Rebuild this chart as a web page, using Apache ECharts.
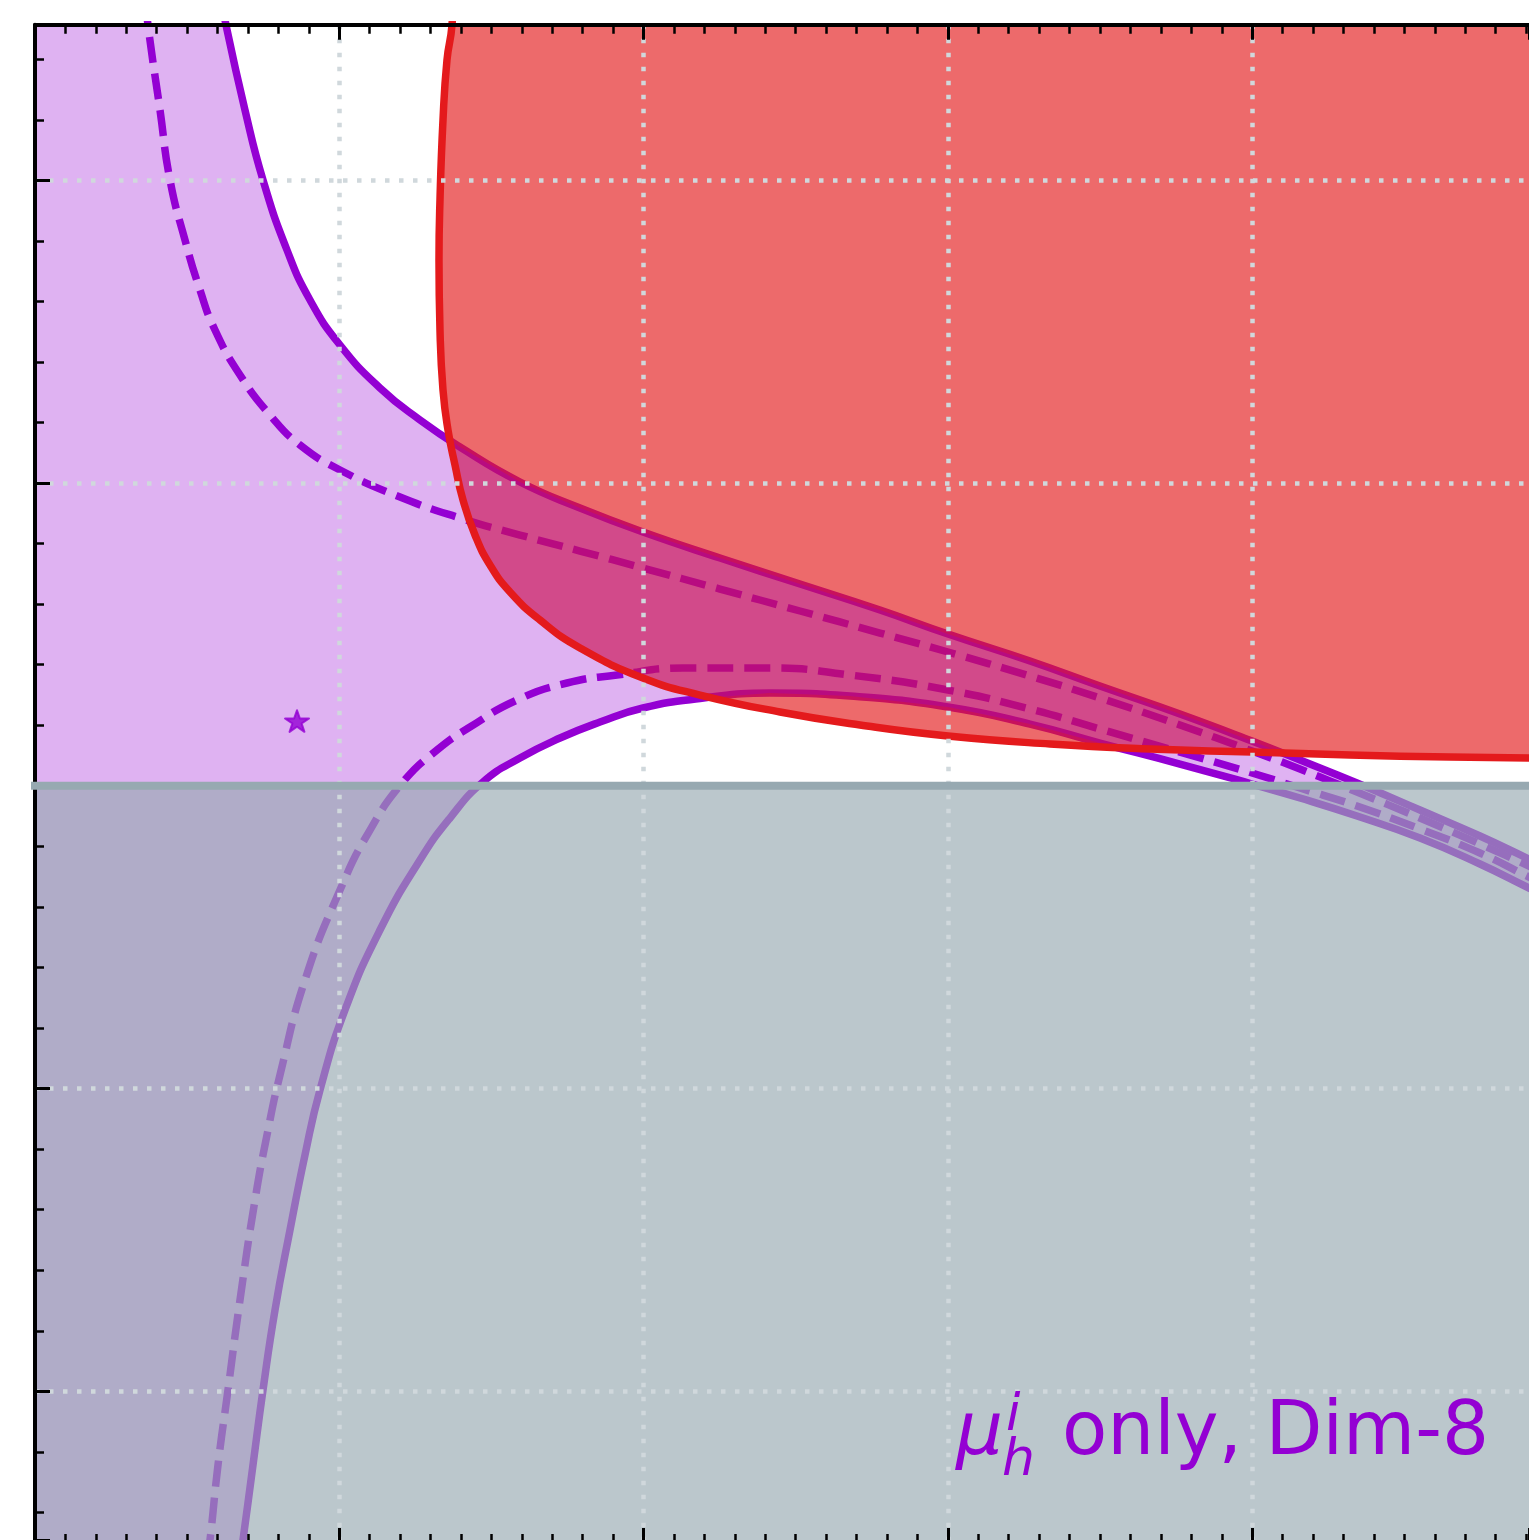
<!DOCTYPE html>
<html><head><meta charset="utf-8">
<script src="https://cdn.jsdelivr.net/npm/echarts@6/dist/echarts.min.js"></script>
<style>html,body{margin:0;padding:0;background:#fff;}#c{width:1529px;height:1540px;}</style>
</head><body><div id="c"></div>
<script>
// ---- data (axis units) ----
const usX = [0.6145,0.6277,0.6901,0.7493,0.8281,0.9037,1.0023,1.1337,1.2652,1.3966,1.5938,1.7910,1.9980,2.2511,2.5140,2.7769,3.0003,3.2698,3.4998,3.7627,3.9993,4.1571,4.3444,4.5515,4.7486,4.9096,5.0444];
const usY = [2.5955,2.5130,2.2322,2.0010,1.7698,1.6046,1.4560,1.3140,1.2083,1.1191,1.0035,0.9176,0.8383,0.7524,0.6666,0.5807,0.5014,0.4122,0.3296,0.2372,0.1480,0.0852,0.0092,-0.0799,-0.1658,-0.2418,-0.3045];
const udX = [0.3648,0.3713,0.4108,0.4436,0.4929,0.5422,0.5915,0.6737,0.7723,0.8709,1.0023,1.1995,1.3966,1.5938,1.7910,1.9980,2.2511,2.5140,2.7769,3.0003,3.2698,3.4998,3.7627,3.9993,4.1571,4.3444,4.5515,4.7486,4.9096,5.0444];
const udY = [2.5955,2.5130,2.2322,2.0010,1.8028,1.6376,1.5055,1.3569,1.2248,1.1257,1.0431,0.9539,0.8846,0.8284,0.7756,0.7194,0.6500,0.5774,0.5047,0.4420,0.3627,0.2900,0.2008,0.1149,0.0555,-0.0205,-0.1064,-0.1922,-0.2649,-0.3277];
const lsX = [0.6737,0.6835,0.7164,0.7493,0.7887,0.8380,0.8873,0.9366,1.0187,1.1337,1.2652,1.3638,1.4722,1.5938,1.7253,1.8567,1.9980,2.1854,2.4154,2.6783,3.0003,3.2698,3.4998,3.7627,3.9993,4.1571,4.3444,4.5515,4.7486,4.9096,5.0444];
const lsY = [-2.5572,-2.4912,-2.2434,-1.9957,-1.7315,-1.4672,-1.2195,-1.0048,-0.7405,-0.4763,-0.2451,-0.1064,0.0126,0.0918,0.1579,0.2107,0.2570,0.2884,0.3065,0.2966,0.2603,0.2041,0.1414,0.0720,0.0059,-0.0403,-0.0998,-0.1724,-0.2583,-0.3376,-0.4036];
const ldX = [0.5652,0.5751,0.6014,0.6342,0.6737,0.7230,0.7657,0.8051,0.8873,1.0023,1.1009,1.2093,1.3211,1.4295,1.5840,1.7483,1.9126,2.1295,2.4154,2.6783,3.0003,3.2698,3.4998,3.7627,3.9993,4.1571,4.3444,4.5515,4.7486,4.9096,5.0444];
const ldY = [-2.5572,-2.4912,-2.2434,-1.9957,-1.6984,-1.3681,-1.1369,-0.9552,-0.6414,-0.3442,-0.1460,0.0126,0.1182,0.1942,0.2834,0.3396,0.3660,0.3891,0.3891,0.3660,0.3164,0.2537,0.1876,0.1116,0.0423,-0.0073,-0.0667,-0.1427,-0.2220,-0.3012,-0.3640];
const redX = [1.3736,1.3704,1.3539,1.3408,1.3309,1.3276,1.3309,1.3408,1.3572,1.3802,1.4065,1.4459,1.4952,1.5610,1.6595,1.7910,1.9980,2.1854,2.4482,2.7111,3.0003,3.3355,3.6642,3.9993,4.3214,4.6500,4.9096,5.0444];
const redY = [2.5955,2.5130,2.3974,2.1992,1.9349,1.7367,1.5055,1.3073,1.1752,1.0596,0.9440,0.8284,0.7293,0.6401,0.5476,0.4552,0.3561,0.2999,0.2438,0.2008,0.1645,0.1381,0.1216,0.1116,0.1017,0.0951,0.0918,0.0902];
const starPoint = [0.861, 0.214];
const baseLineY = 0;
const xRange = [0, 4.9097];
const yRange = [-2.4911, 2.514];
const labelParts = ['μ', 'i', 'h', 'only, Dim-8'];

// ---- styling ----
const PURPLE = '#9400D3', RED = '#E41A1C', GRAYC = '#97A9B1';
const zip = (xs, ys) => xs.map((x, i) => [x, ys[i]]);
const us = zip(usX, usY), ud = zip(udX, udY), ls = zip(lsX, lsY), ld = zip(ldX, ldY), red = zip(redX, redY);
const OUT = 0.2; // margin outside axis range used to close polygons
const xo0 = xRange[0] - OUT, xo1 = xRange[1] + OUT, yo0 = yRange[0] - OUT, yo1 = yRange[1] + OUT;

const redPoly = red.concat([[xo1, redY[redY.length - 1]], [xo1, yo1], [redX[0], yo1]]);
const purplePoly = [[xo0, yo1], [usX[0], yo1]].concat(us, [[xo1, usY[usY.length - 1]], [xo1, lsY[lsY.length - 1]]], ls.slice().reverse(), [[lsX[0], yo0], [xo0, yo0]]);
const grayPoly = [[xo0, baseLineY], [xo1, baseLineY], [xo1, yo0], [xo0, yo0]];

function polySeries(name, points, fill, z) {
  return {
    name, type: 'custom', coordinateSystem: 'cartesian2d', z, silent: true, clip: true,
    data: points, encode: { x: 0, y: 1 },
    renderItem(params, api) {
      if (params.dataIndex !== 0) return null;
      const cs = params.coordSys;
      return {
        type: 'polygon', shape: { points: points.map(p => api.coord(p)) }, style: { fill },
        clipPath: { type: 'rect', shape: { x: cs.x, y: cs.y, width: cs.width, height: cs.height } }
      };
    }
  };
}
function lineSeries(name, data, color, dashed, z) {
  return {
    name, type: 'line', data, z, symbol: 'none', showSymbol: false, silent: true, smooth: 0.5, clip: true,
    lineStyle: { color, width: 7.5, type: dashed ? [26, 11] : 'solid', cap: 'butt', join: 'round' }
  };
}
const gridLine = { show: true, showMinLine: false, showMaxLine: false, lineStyle: { color: '#D0D8DC', width: 4.5, type: [4.5, 9.5] } };
const xAxisDef = (pos, split, offset) => ({
  type: 'value', position: pos, offset, min: xRange[0], max: xRange[1], splitNumber: 5, z: 7,
  axisLine: { show: true, onZero: false, lineStyle: { color: '#000', width: 4 } },
  axisTick: { show: true, inside: true, length: 15, lineStyle: { color: '#000', width: 3 } },
  minorTick: { show: true, splitNumber: 10, length: 9, lineStyle: { color: '#000', width: 2.5 } },
  axisLabel: { show: false }, splitLine: split ? gridLine : { show: false }, minorSplitLine: { show: false }
});

const starPath = 'path://M50,0 L61.8,35.1 L98.8,35.1 L68.8,56.8 L80.2,92 L50,70.2 L19.8,92 L31.2,56.8 L1.2,35.1 L38.2,35.1 Z';

const chart = echarts.init(document.getElementById('c'), null, { renderer: 'canvas' });
chart.setOption({
  animation: false,
  backgroundColor: '#ffffff',
  grid: { left: 35, top: 24.7, right: 0, bottom: 0, containLabel: false },
  xAxis: [xAxisDef('bottom', true, 3), xAxisDef('top', false, 0)],
  yAxis: [{
    type: 'value', position: 'left', min: yRange[0], max: yRange[1], splitNumber: 5, z: 7,
    axisLine: { show: true, onZero: false, lineStyle: { color: '#000', width: 4 } },
    axisTick: { show: true, inside: true, length: 15, lineStyle: { color: '#000', width: 3 } },
    minorTick: { show: true, splitNumber: 5, length: 9, lineStyle: { color: '#000', width: 2.5 } },
    axisLabel: { show: false }, splitLine: gridLine, minorSplitLine: { show: false }
  }],
  series: [
    lineSeries('upper solid', us, PURPLE, false, 2),
    lineSeries('upper dashed', ud, PURPLE, true, 2),
    lineSeries('lower solid', ls, PURPLE, false, 2),
    lineSeries('lower dashed', ld, PURPLE, true, 2),
    polySeries('red region', redPoly, 'rgba(228,26,28,0.65)', 3),
    polySeries('purple region', purplePoly, 'rgba(148,0,211,0.3)', 4),
    lineSeries('red curve', red, RED, false, 5),
    polySeries('gray region', grayPoly, 'rgba(151,169,177,0.65)', 6),
    {
      name: 'gray line', type: 'line', z: 8, symbol: 'none', silent: true,
      data: [[xo0, baseLineY], [xo1, baseLineY]],
      lineStyle: { color: GRAYC, width: 8 }
    },
    {
      name: 'star', type: 'scatter', z: 9, silent: true, data: [starPoint],
      symbol: starPath, symbolSize: [24, 23], symbolKeepAspect: true,
      itemStyle: { color: PURPLE, borderColor: PURPLE, borderWidth: 2, borderJoin: 'round' }
    }
  ],
  graphic: [
    { type: 'text', z: 10, x: 956, y: 1434.4, style: { text: labelParts[0], font: 'italic 74px "DejaVu Sans"', fill: PURPLE, verticalAlign: 'middle', align: 'left' } },
    { type: 'text', z: 10, x: 1006, y: 1416, style: { text: labelParts[1], font: 'italic 52px "DejaVu Sans"', fill: PURPLE, verticalAlign: 'middle', align: 'left' } },
    { type: 'text', z: 10, x: 1002, y: 1461, style: { text: labelParts[2], font: 'italic 52px "DejaVu Sans"', fill: PURPLE, verticalAlign: 'middle', align: 'left' } },
    { type: 'text', z: 10, x: 1062, y: 1434.4, style: { text: labelParts[3], font: '74px "DejaVu Sans"', fill: PURPLE, verticalAlign: 'middle', align: 'left' } }
  ]
});
</script></body></html>
